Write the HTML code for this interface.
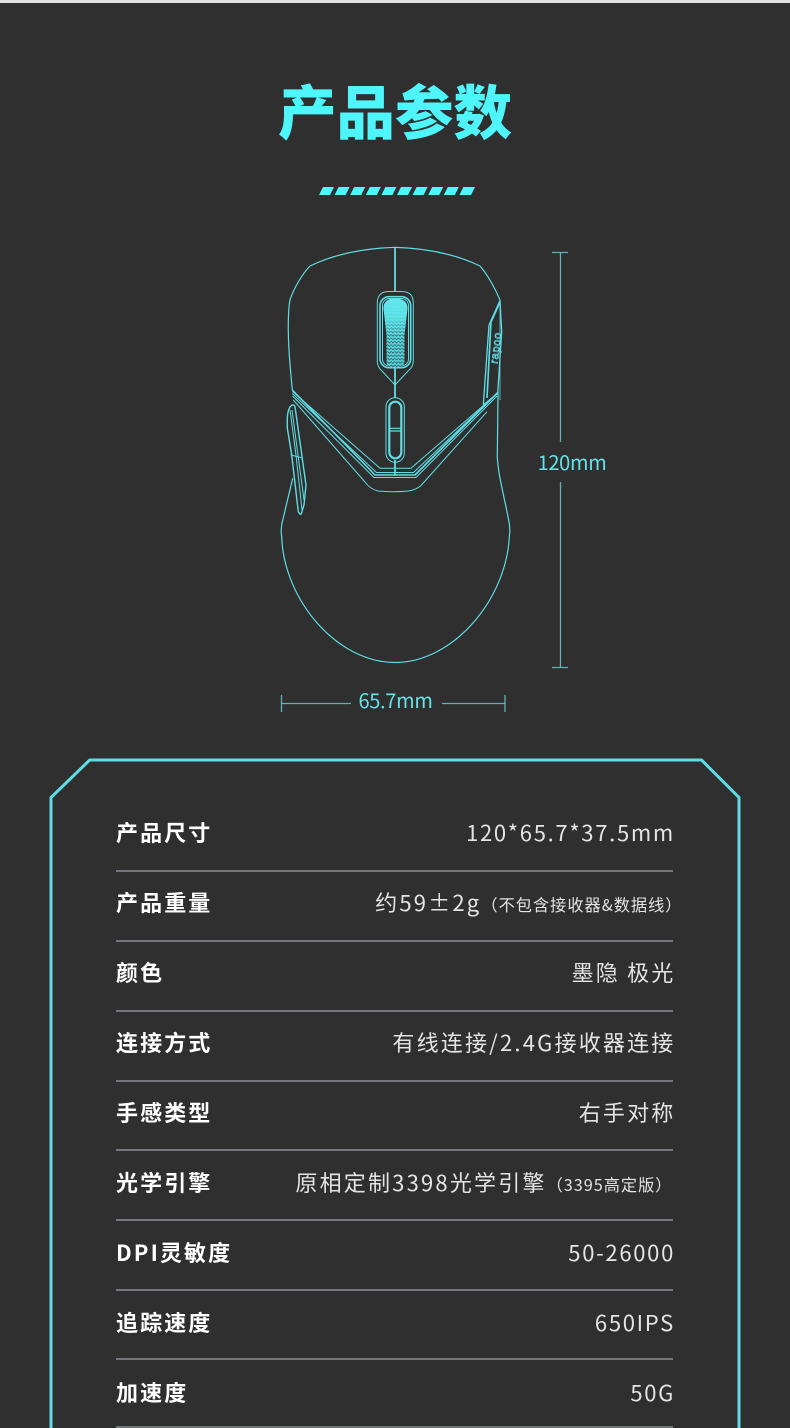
<!DOCTYPE html>
<html lang="zh"><head><meta charset="utf-8"><title>产品参数</title>
<style>
html,body{margin:0;padding:0;background:#2f2f2f}
#p{position:relative;width:790px;height:1428px;overflow:hidden;background:#2f2f2f}
#p,.t,.l,.v{font-family:"Noto Sans CJK SC","Liberation Sans",sans-serif}
.bar{position:absolute;left:0;top:0;width:790px;height:3px;background:#e2e2e2}
svg{position:absolute;left:0;top:0}
.t{position:absolute;left:0;top:61px;width:790px;text-align:center;font-size:58.500px;line-height:96px;font-weight:900;color:#4ef6fb}
.r{position:absolute;left:116px;width:557px;height:40px;line-height:40px;white-space:nowrap}
.l{position:absolute;left:0;top:0;font-size:22px;font-weight:700;color:#fff;letter-spacing:2.1px}
.v{position:absolute;right:-2.5px;top:0;font-size:22px;font-weight:400;color:#e4e4e4;letter-spacing:2.2px}
.n{letter-spacing:1.7px;right:-2px}
.v small{font-size:16.2px;letter-spacing:1px}
.d{position:absolute;left:116px;width:557px;height:2px;background:#75757d}
</style></head><body><div id="p">
<div class="bar"></div>
<div class="t">产品参数</div>
<svg width="790" height="1428" viewBox="0 0 790 1428" fill="none">
<defs>
<pattern id="w" width="3.6" height="3.4" patternUnits="userSpaceOnUse" x="384" y="300"><path d="M0 0.4 L1.8 2.2 L3.6 0.4" stroke="#2f3f42" stroke-width="0.6"/></pattern>
<linearGradient id="g" x1="0" y1="0" x2="0" y2="1"><stop offset="0" stop-color="#5fe8ee"/><stop offset="1" stop-color="#52cfd6"/></linearGradient>
<linearGradient id="h" x1="0" y1="0" x2="0" y2="1"><stop offset="0" stop-color="#5fe8ee"/><stop offset=".25" stop-color="#5fe8ee" stop-opacity=".85"/><stop offset=".55" stop-color="#5fe8ee" stop-opacity="0"/><stop offset="1" stop-color="#5fe8ee" stop-opacity="0"/></linearGradient>
</defs>
<g fill="#4ef6fb">
<polygon points="323,187 334,187 330,195 319,195"/><polygon points="338.600,187 349.600,187 345.600,195 334.600,195"/><polygon points="354.200,187 365.200,187 361.200,195 350.200,195"/><polygon points="369.800,187 380.800,187 376.800,195 365.800,195"/><polygon points="385.400,187 396.400,187 392.400,195 381.400,195"/><polygon points="401,187 412,187 408,195 397,195"/><polygon points="416.600,187 427.600,187 423.600,195 412.600,195"/><polygon points="432.200,187 443.200,187 439.200,195 428.200,195"/><polygon points="447.800,187 458.800,187 454.800,195 443.800,195"/><polygon points="463.400,187 475,187 471,195 459.400,195"/>
</g>
<g stroke="#5fdde5" stroke-width="1.2" stroke-linejoin="round">
<path d="M292.300 390 C290 365 288 345 288.300 322 C288.500 312 289 305 290 300 C293 290 302 274 310 266 Q345 249 395 247.300 Q445 249 480 266 C487 274 495 288 500 300"/>
<path d="M498 393 L497.300 456.700 C498 475 505 500 509 521.700 C510 528 510 533 509.300 537 C506 600 453 662.500 395 662.500 C337 662.500 284 600 281.700 537 C281 532 281 530 282 523.300 L292.700 478.300"/>
</g>
<g stroke="#5fdde5" stroke-width="1" stroke-linejoin="round">
<path d="M395 247.300V292M395 368V398M395 460V475" stroke-width="1.8"/>
<path d="M377.300 303 Q377.300 291.500 389 291.500 H401.600 Q413.300 291.500 413.300 303 V361 Q413.300 367 408 371 L395 385 L382 371 Q377.300 367 377.300 361 Z"/>
<rect x="380" y="296.700" width="30.700" height="71" rx="9" stroke-width="1.6"/>
<rect x="382.500" y="298.500" width="26" height="67.500" rx="7" stroke-width="1"/>
<path d="M383.500 308 Q384 298.500 395 298.500 Q407 298.500 407.500 308 L404.500 335 V362 Q404.500 367 395 367.500 Q386.500 367 386.500 362 V335 Z" fill="url(#g)" stroke="none"/>
<path d="M383.500 308 Q384 298.500 395 298.500 Q407 298.500 407.500 308 L404.500 335 V362 Q404.500 367 395 367.500 Q386.500 367 386.500 362 V335 Z" fill="url(#w)" stroke="none"/>
<path d="M383.500 308 Q384 298.500 395 298.500 Q407 298.500 407.500 308 L404.500 335 V362 Q404.500 367 395 367.500 Q386.500 367 386.500 362 V335 Z" fill="url(#h)" stroke="none"/>
<rect x="386" y="397.700" width="18.300" height="64.600" rx="9" stroke-width="1"/>
<rect x="389.300" y="401.700" width="12" height="56.600" rx="6" stroke-width="2.2"/>
<path d="M389.500 428.300H401M389.500 431H401" stroke-width="1.2"/>
<path d="M292.300 390 L375 475 H415 L498.300 392" stroke-width="1.6"/>
<path d="M292.300 393.500 L376.500 472.500 H413.500 L497 393.500" stroke-width="1"/>
<path d="M292.500 396 L374 477.500 H416 L497 396" stroke-width="1"/>
<path d="M292.500 391.500 L380 468.300 H411 L484 405" stroke-width="1"/>
<path d="M293.300 400 L365 482 Q370 489 378 491 Q395 492.500 408 491 Q416 490 421 485.500 L487 411.700" stroke-width="1"/>
<path d="M500 300 V400" stroke-width="1" opacity=".75"/>
<path d="M500 300.500 L489 325 L483.300 405 L497.700 393.300 L501.700 331.700 Z" stroke-width="1.3"/>
<path d="M500 302 L491 322 L487 398" stroke-width="1.6"/>
<path d="M292.300 405 Q288 407 287.300 418 V428 L291.700 455 L298.300 511.700 Q300.500 516 301.500 513 L304 505 L306 485 L295 406.700 Q294 404.500 292.300 405 Z" stroke-width="1.4"/>
<path d="M290 410 L296 455 L302 510 M290.700 455 L301.700 457.700 M292 410 L304 500" stroke-width="1"/>
</g>
<text transform="translate(497.500,364) rotate(-83)" font-family="Liberation Sans,sans-serif" font-size="11" fill="none" stroke="#5fdde5" stroke-width=".7" textLength="31">rapoo</text>
<g stroke="#5fb3b8" stroke-width="1.300">
<path d="M560.500 252V442M560.500 482V668M552 252.500H568M552 667.500H568"/>
<path d="M281.500 695V712M505 695V712M281.500 703.500H351M442 703.500H505"/>
</g>
<g fill="#63e2e8" font-family="Noto Sans CJK SC,sans-serif" font-size="20" text-anchor="middle" letter-spacing="-.3">
<text x="572" y="470">120mm</text>
<text x="395.500" y="708">65.7mm</text>
</g>
<path d="M51 1430V797.500L89.700 760H701.500L739 797.500V1430" stroke="#5fdde5" stroke-width="3"/>
</svg>
<div class="r" style="top:812px"><span class="l">产品尺寸</span><span class="v n">120*65.7*37.5mm</span></div>
<div class="d" style="top:870px"></div>
<div class="r" style="top:882px"><span class="l">产品重量</span><span class="v">约59±2g<small style="margin-right:-7px">（不包含接收器&amp;数据线）</small></span></div>
<div class="d" style="top:940px"></div>
<div class="r" style="top:952px"><span class="l">颜色</span><span class="v">墨隐 极光</span></div>
<div class="d" style="top:1010px"></div>
<div class="r" style="top:1022px"><span class="l">连接方式</span><span class="v">有线连接/2.4G接收器连接</span></div>
<div class="d" style="top:1080px"></div>
<div class="r" style="top:1092px"><span class="l">手感类型</span><span class="v">右手对称</span></div>
<div class="d" style="top:1149px"></div>
<div class="r" style="top:1162px"><span class="l">光学引擎</span><span class="v">原相定制3398光学引擎<small style="margin-right:3px">（3395高定版）</small></span></div>
<div class="d" style="top:1219px"></div>
<div class="r" style="top:1232px"><span class="l">DPI灵敏度</span><span class="v n">50-26000</span></div>
<div class="d" style="top:1289px"></div>
<div class="r" style="top:1302px"><span class="l">追踪速度</span><span class="v n">650IPS</span></div>
<div class="d" style="top:1358px"></div>
<div class="r" style="top:1372px"><span class="l">加速度</span><span class="v n">50G</span></div>
<div class="d" style="top:1426px"></div>
</div></body></html>
